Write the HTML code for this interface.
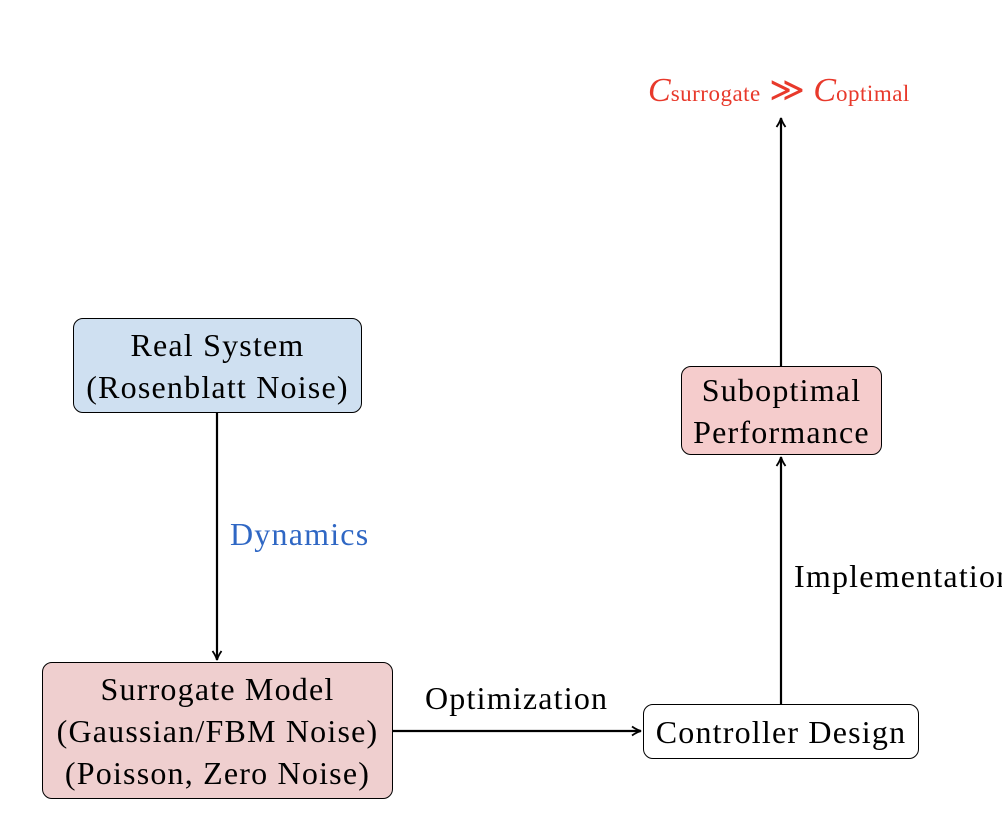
<!DOCTYPE html>
<html><head><style>
body{margin:0;width:1002px;height:822px;background:#fff;position:relative;overflow:hidden;font-family:"Liberation Serif",serif;color:#000}
.b{position:absolute;box-sizing:border-box;border:1.3px solid #000;border-radius:10px;text-align:center;font-size:32px;letter-spacing:1.2px;line-height:42px;display:flex;flex-direction:column;justify-content:center;white-space:nowrap}
.t{position:absolute;font-size:32px;letter-spacing:1.2px;white-space:nowrap}
</style></head><body>
<svg width="1002" height="822" style="position:absolute;left:0;top:0">
<defs><marker id="a" markerWidth="12" markerHeight="12" refX="10" refY="6" orient="auto" markerUnits="userSpaceOnUse"><path d="M1,1.5 Q6,5 10,6 Q6,7 1,10.5" fill="none" stroke="#000" stroke-width="1.8"/></marker></defs>
<g stroke="#000" stroke-width="2.2" fill="none">
<line x1="217" y1="412" x2="217" y2="660" marker-end="url(#a)"/>
<line x1="393" y1="731" x2="641" y2="731" marker-end="url(#a)"/>
<line x1="781" y1="704" x2="781" y2="457" marker-end="url(#a)"/>
<line x1="781" y1="366" x2="781" y2="118" marker-end="url(#a)"/>
</g></svg>
<div class="b" style="left:73px;top:318px;width:289px;height:95px;background:#cfe0f1">Real System<br>(Rosenblatt Noise)</div>
<div class="b" style="left:42px;top:662px;width:351px;height:137px;background:#efcfcf">Surrogate Model<br>(Gaussian/FBM Noise)<br>(Poisson, Zero Noise)</div>
<div class="b" style="left:643px;top:704px;width:276px;height:55px;background:#fff">Controller Design</div>
<div class="b" style="left:681px;top:366px;width:201px;height:89px;background:#f5cccc">Suboptimal<br>Performance</div>
<div class="t" style="left:230px;top:516px;color:#2f67c4">Dynamics</div>
<div class="t" style="left:425px;top:680px">Optimization</div>
<div class="t" style="left:794px;top:558px">Implementation</div>
<div class="t" style="left:648px;top:70px;color:#e8392b;font-size:34px;letter-spacing:0"><i>C</i><span style="font-size:23px;letter-spacing:0.5px">surrogate</span> ≫ <i>C</i><span style="font-size:23px;letter-spacing:0.5px">optimal</span></div>
</body></html>
